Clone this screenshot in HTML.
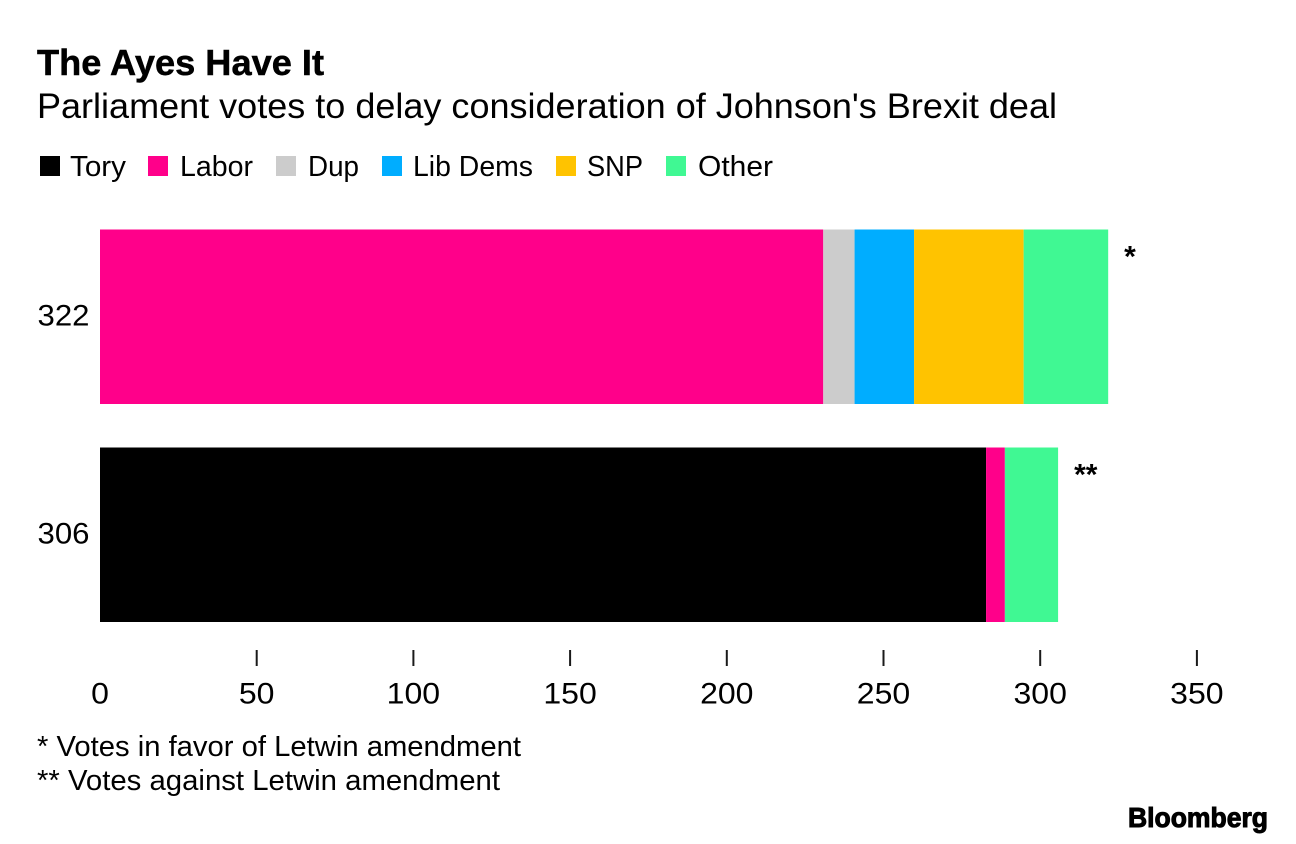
<!DOCTYPE html>
<html lang="en">
<head>
<meta charset="utf-8">
<title>The Ayes Have It</title>
<style>
html,body{margin:0;padding:0;background:#fff;width:1296px;height:844px;overflow:hidden}
svg{display:block}
text{font-family:"Liberation Sans",sans-serif;fill:#000}
</style>
</head>
<body>
<svg id="chart" width="1296" height="844" viewBox="0 0 1296 844" xmlns="http://www.w3.org/2000/svg">
  <text x="37" y="75" font-size="36" font-weight="700" stroke="#000" stroke-width="0.5" textLength="287" lengthAdjust="spacingAndGlyphs">The Ayes Have It</text>
  <text x="37" y="118" font-size="35" textLength="1020" lengthAdjust="spacingAndGlyphs">Parliament votes to delay consideration of Johnson's Brexit deal</text>

  <g font-size="29">
    <rect x="40" y="156" width="20" height="20" fill="#000000"/>
    <text x="70" y="176" textLength="56" lengthAdjust="spacingAndGlyphs">Tory</text>
    <rect x="148" y="156" width="20" height="20" fill="#ff008a"/>
    <text x="180" y="176" textLength="73" lengthAdjust="spacingAndGlyphs">Labor</text>
    <rect x="276" y="156" width="20" height="20" fill="#cccccc"/>
    <text x="308" y="176" textLength="51" lengthAdjust="spacingAndGlyphs">Dup</text>
    <rect x="382" y="156" width="20" height="20" fill="#00adff"/>
    <text x="413" y="176" textLength="120" lengthAdjust="spacingAndGlyphs">Lib Dems</text>
    <rect x="556" y="156" width="20" height="20" fill="#ffc300"/>
    <text x="587" y="176" textLength="56" lengthAdjust="spacingAndGlyphs">SNP</text>
    <rect x="666" y="156" width="20" height="20" fill="#40f893"/>
    <text x="698" y="176" textLength="75" lengthAdjust="spacingAndGlyphs">Other</text>
  </g>

  <g id="plot"></g>

  <text x="37" y="756" font-size="29" textLength="484" lengthAdjust="spacingAndGlyphs">* Votes in favor of Letwin amendment</text>
  <text x="37" y="790" font-size="29" textLength="463" lengthAdjust="spacingAndGlyphs">** Votes against Letwin amendment</text>
  <text x="1128" y="827" font-size="28" font-weight="700" stroke="#000" stroke-width="1" textLength="140" lengthAdjust="spacingAndGlyphs">Bloomberg</text>
</svg>
<script>
const categories = ['322', '306'];
const markers = ['*', '**'];
const tory = [0, 283];
const labor = [231, 6];
const dup = [10, 0];
const libDems = [19, 0];
const snp = [35, 0];
const other = [27, 17];
const xTicks = [0, 50, 100, 150, 200, 250, 300, 350];

const NS = 'http://www.w3.org/2000/svg';
const plot = document.getElementById('plot');
const seriesList = [
  { key: 'tory', values: tory, color: '#000000' },
  { key: 'labor', values: labor, color: '#ff008a' },
  { key: 'dup', values: dup, color: '#cccccc' },
  { key: 'lib-dems', values: libDems, color: '#00adff' },
  { key: 'snp', values: snp, color: '#ffc300' },
  { key: 'other', values: other, color: '#40f893' }
];
const xAxis = v => 100 + v * 3.131;
const tickAxis = v => 100 + v * 3.134;
const barTop = i => 229.5 + i * 218;
const barHeight = 174.5;

function make(tag, attrs, text) {
  const el = document.createElementNS(NS, tag);
  Object.keys(attrs).forEach(k => el.setAttribute(k, attrs[k]));
  if (text !== undefined) el.textContent = text;
  plot.appendChild(el);
  return el;
}

categories.forEach((cat, i) => {
  let sum = 0;
  seriesList.forEach(s => {
    const v = s.values[i];
    if (v > 0) {
      const bar = make('rect', { x: xAxis(sum), y: barTop(i), width: xAxis(sum + v) - xAxis(sum), height: barHeight, fill: s.color });
      
      
    }
    sum += v;
  });
  const label = make('text', { x: 89.5, y: barTop(i) + 96, 'font-size': 30, 'text-anchor': 'end', textLength: 52, lengthAdjust: 'spacingAndGlyphs' }, cat);
  
  
  const mark = make('text', { x: xAxis(sum) + 16, y: barTop(i) + 37, 'font-size': 30, 'font-weight': 700 }, markers[i]);
  
  
});

xTicks.forEach(t => {
  if (t > 0) {
    const tick = make('line', { x1: tickAxis(t), x2: tickAxis(t), y1: 650, y2: 666, stroke: '#1a1a1a', 'stroke-width': 2 });
    
    
  }
  const digits = String(t).length;
  const tl = make('text', { x: tickAxis(t), y: 703.5, 'font-size': 30, 'text-anchor': 'middle', textLength: digits * 17.8, lengthAdjust: 'spacingAndGlyphs' }, String(t));
  
  
});
</script>
</body>
</html>
